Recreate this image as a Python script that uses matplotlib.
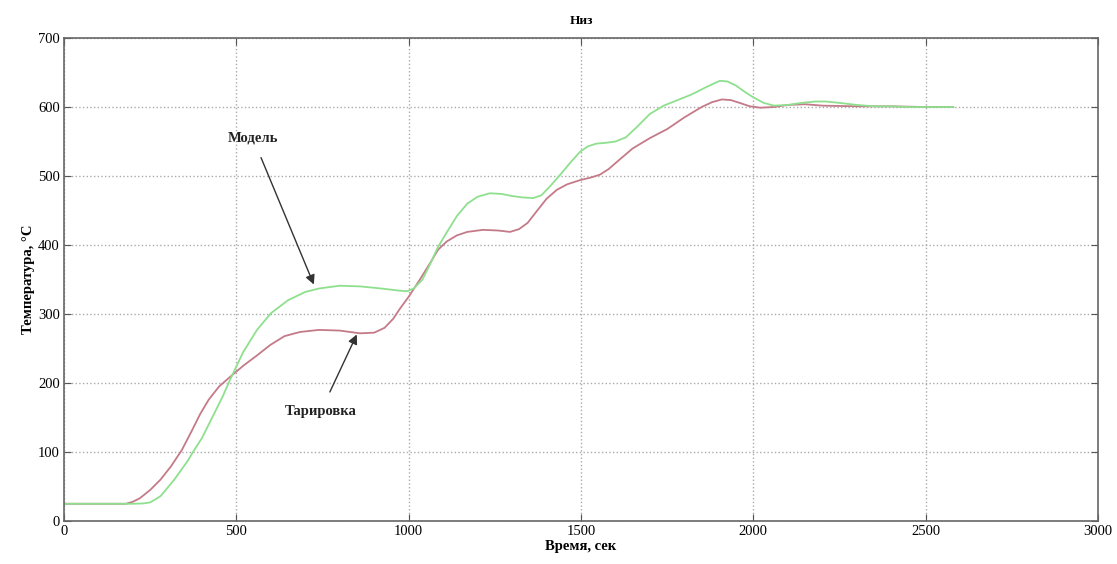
import numpy as np
import matplotlib.pyplot as plt

plt.rcParams['font.family'] = ['Liberation Serif', 'DejaVu Serif']

# Модель (зелёная кривая)
t_model = [0, 100, 200, 230, 250, 280, 320, 360, 374, 400, 430, 460, 482, 520, 560, 600,
           650, 700, 740, 800, 860, 920, 970, 995, 1015, 1040, 1060, 1085, 1110, 1140,
           1170, 1200, 1236, 1270, 1300, 1330, 1361, 1385, 1410, 1440, 1470, 1497, 1520,
           1545, 1570, 1600, 1630, 1660, 1700, 1740, 1780, 1820, 1860, 1885, 1903, 1925,
           1950, 1975, 2000, 2030, 2060, 2100, 2140, 2180, 2210, 2250, 2300, 2350, 2400,
           2450, 2500, 2580]
y_model = [25, 25, 25, 25.5, 27, 36, 60, 88, 100, 120, 150, 180, 205, 245, 277, 301,
           320, 332, 337, 341, 340, 337, 334, 333, 337, 350, 370, 397, 418, 442,
           460, 470, 475, 474, 471, 469, 468, 472, 485, 502, 520, 535, 543,
           547, 548, 550, 556, 570, 590, 602, 610, 618, 628, 634, 638, 637,
           631, 622, 614, 606, 602, 603, 606, 608, 608, 606, 603, 601, 601,
           600, 600, 600]

# Тарировка (красная кривая)
t_calib = [0, 100, 180, 200, 220, 250, 280, 310, 342, 370, 395, 420, 450, 482, 520, 560,
           598, 640, 685, 740, 800, 859, 900, 930, 955, 975, 1000, 1030, 1060, 1085,
           1110, 1140, 1170, 1216, 1260, 1294, 1320, 1345, 1370, 1400, 1430, 1460, 1497,
           1530, 1555, 1580, 1610, 1650, 1700, 1750, 1800, 1850, 1880, 1909, 1935, 1960,
           1990, 2020, 2060, 2100, 2150, 2200, 2300, 2400, 2500, 2580]
y_calib = [25, 25, 25, 28, 33, 45, 60, 79, 103, 130, 155, 176, 195, 209, 225, 240,
           255, 268, 274, 277, 276, 272, 273, 280, 293, 308, 325, 348, 372, 393,
           405, 414, 419, 422, 421, 419, 423, 432, 448, 467, 480, 488, 494,
           498, 502, 510, 523, 540, 555, 568, 585, 600, 607, 611, 610, 606,
           601, 599, 600, 603, 604, 602, 601, 601, 600, 600]

fig = plt.figure(figsize=(11.17, 5.64), dpi=100)
ax = fig.add_axes([0.0573, 0.0762, 0.9257, 0.8564])

ax.plot(t_calib, y_calib, color='#c47a88', lw=1.3)
ax.plot(t_model, y_model, color='#8ee08e', lw=1.3)

ax.set_xlim(0, 3000)
ax.set_ylim(0, 700)
ax.set_xticks(np.arange(0, 3001, 500))
ax.set_yticks(np.arange(0, 701, 100))
ax.grid(True, linestyle=':', color='#aaaaaa', lw=1)
ax.tick_params(direction='in', top=True, right=True, length=5, color='#555555',
               labelsize=10.5, pad=3)
for s in ax.spines.values():
    s.set_color('#666666')
    s.set_linewidth(1.2)

ax.set_title('Низ', fontsize=9.5, fontweight='bold', pad=10)
ax.set_xlabel('Время, сек', fontsize=10.5, fontweight='bold', labelpad=1)
ax.set_ylabel('Температура, °С', fontsize=10.5, fontweight='bold', labelpad=2)

ax.annotate('Модель', xy=(728, 339), xytext=(548, 555), fontsize=10.5, fontweight='bold',
            ha='center', va='center', color='#222222',
            arrowprops=dict(arrowstyle='-|>', color='#333333', lw=1, shrinkA=8,
                            mutation_scale=14))
ax.annotate('Тарировка', xy=(853, 274), xytext=(745, 159), fontsize=10.5, fontweight='bold',
            ha='center', va='center', color='#222222',
            arrowprops=dict(arrowstyle='-|>', color='#333333', lw=1, shrinkA=8,
                            mutation_scale=14))

fig.savefig('out.png', dpi=100)
